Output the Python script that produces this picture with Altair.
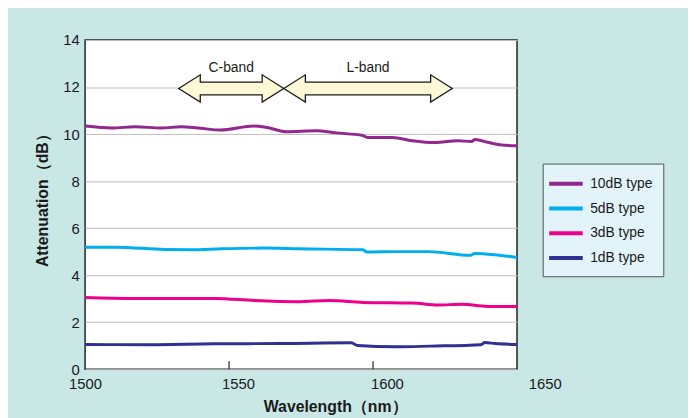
import altair as alt
import pandas as pd

# ---- data ----
series_names = ["10dB type", "5dB type", "3dB type", "1dB type"]
series_colors = ["#92278f", "#00aeef", "#ec008c", "#2e3192"]

wl_10 = [1500, 1509.4, 1517.4, 1526.5, 1533.4, 1539.1, 1547.1, 1558.6, 1563.2, 1570, 1580.3,
         1587.2, 1596.4, 1598.2, 1606.7, 1613.5, 1621.5, 1629.5, 1634.1, 1635.5, 1639.8, 1644.4, 1650]
att_10 = [10.34, 10.26, 10.31, 10.26, 10.31, 10.26, 10.17, 10.34, 10.28, 10.10, 10.14,
          10.05, 9.94, 9.85, 9.85, 9.72, 9.64, 9.72, 9.68, 9.77, 9.65, 9.54, 9.50]

wl_5 = [1500, 1510.6, 1527.8, 1537, 1547.4, 1562.1, 1574.1, 1596.5, 1597.8, 1607.8, 1619.1,
        1633.9, 1635.2, 1642.1, 1650]
att_5 = [5.19, 5.19, 5.09, 5.08, 5.12, 5.15, 5.12, 5.08, 4.98, 5.00, 5.00,
         4.84, 4.92, 4.87, 4.75]

wl_3 = [1500, 1516.5, 1533.6, 1545, 1558.7, 1574.2, 1584.8, 1596.5, 1613.6, 1622.6, 1630.8, 1639.7, 1650]
att_3 = [3.05, 3.01, 3.01, 3.01, 2.92, 2.87, 2.92, 2.84, 2.81, 2.73, 2.76, 2.67, 2.67]

wl_1 = [1500, 1522, 1545, 1568, 1592.5, 1594.5, 1608, 1620, 1637.5, 1638.8, 1642.5, 1650]
att_1 = [1.05, 1.04, 1.08, 1.09, 1.12, 1.01, 0.95, 0.98, 1.04, 1.13, 1.09, 1.05]

x_ticks = [1500, 1550, 1600, 1650]
y_ticks = [0, 2, 4, 6, 8, 10, 12, 14]
inner_ticks = [1550, 1600]

band_names = ["C-band", "L-band"]
band_start = [1532.5, 1569]
band_end = [1569, 1627.5]
band_center_y = 11.94
band_label_y = 12.8

# ---- tables ----
rows = []
for name, wls, vals in zip(series_names, [wl_10, wl_5, wl_3, wl_1], [att_10, att_5, att_3, att_1]):
    for w, v in zip(wls, vals):
        rows.append({"series": name, "wl": w, "att": v})
df = pd.DataFrame(rows)

head_len = 7.5    # nm
head_half = 0.58  # dB
shaft_half = 0.27  # dB
arrow_rows = []
for b, s, e in zip(band_names, band_start, band_end):
    c = band_center_y
    pts = [(s, c, c), (s + head_len, c + head_half, c - head_half), (s + head_len, c + shaft_half, c - shaft_half),
           (e - head_len, c + shaft_half, c - shaft_half), (e - head_len, c + head_half, c - head_half), (e, c, c)]
    for i, (x, t, bt) in enumerate(pts):
        arrow_rows.append({"band": b, "i": i, "x": x, "top": t, "bot": bt})
arrow_df = pd.DataFrame(arrow_rows)
label_df = pd.DataFrame({"band": band_names, "x": [(s + e) / 2 for s, e in zip(band_start, band_end)],
                         "y": [band_label_y] * len(band_names)})
tick_df = pd.DataFrame({"x": inner_ticks})

FONT = "Liberation Sans"
xscale = alt.Scale(domain=[1500, 1650], nice=False, zero=False)
yscale = alt.Scale(domain=[0, 14], nice=False)

lines = alt.Chart(df).mark_line(strokeWidth=3, interpolate="monotone").encode(
    x=alt.X("wl:Q", scale=xscale,
            axis=alt.Axis(values=x_ticks, grid=False, ticks=False, domain=False, format="d",
                          labelFlush=False, labelOverlap=False,
                          labelFontSize=15, labelPadding=8, labelColor="#1a1a1a", labelFont=FONT,
                          labelOffset={"condition": [{"test": "datum.value == 1550", "value": 9},
                                                     {"test": "datum.value == 1600", "value": 14},
                                                     {"test": "datum.value == 1650", "value": 28}],
                                       "value": 0},
                          title="Wavelength（nm）", titleFontSize=16, titleFontWeight="bold",
                          titleColor="#1a1a1a", titleFont=FONT, titleX=253, titleY=43,
                          titleBaseline="alphabetic", titleAlign="center")),
    y=alt.Y("att:Q", scale=yscale,
            axis=alt.Axis(values=y_ticks, grid=True, gridColor="#bdbdbd", gridWidth=1, ticks=False,
                          domain=False, labelFontSize=15, labelPadding=6, labelColor="#1a1a1a",
                          labelFont=FONT, title="Attenuation（dB）", titleFontSize=16,
                          titleFontWeight="bold", titleColor="#1a1a1a", titleFont=FONT,
                          titlePadding=12, titleY=158)),
    color=alt.Color("series:N", scale=alt.Scale(domain=series_names, range=series_colors),
                    legend=alt.Legend(orient="none", legendX=463, legendY=125, title=None,
                                      fillColor="#e2f3fa", strokeColor="#555555", padding=10,
                                      symbolType="M-2,0H2", symbolSize=289, symbolStrokeWidth=4,
                                      symbolOffset=3, labelOffset=14, labelFontSize=14,
                                      labelFont=FONT, labelColor="#1a1a1a", rowPadding=6)),
)

ticks = alt.Chart(tick_df).mark_rule(color="#222222", strokeWidth=1.2).encode(
    x=alt.X("x:Q", scale=xscale), y=alt.value(333), y2=alt.value(325))

arrows = alt.Chart(arrow_df).mark_area(fill="#fdf8d6", stroke="#1a1a1a", strokeWidth=1.3,
                                       strokeJoin="miter", orient="vertical").encode(
    x=alt.X("x:Q", scale=xscale), y=alt.Y("top:Q", scale=yscale, stack=None), y2="bot:Q",
    detail="band:N")

labels = alt.Chart(label_df).mark_text(fontSize=14, font=FONT, color="#1a1a1a", baseline="middle").encode(
    x=alt.X("x:Q", scale=xscale), y=alt.Y("y:Q", scale=yscale), text="band:N")

chart = alt.layer(lines, ticks, arrows, labels).properties(
    width=437, height=333,
    padding={"left": 78, "top": 30, "right": 173, "bottom": 47},
    autosize=alt.AutoSizeParams(type="none"),
    background="#c9e8e5",
).configure_view(fill="white", stroke="#222222", strokeWidth=1.5)

chart.save("out.html", embed_options={"renderer": "svg", "actions": False})
